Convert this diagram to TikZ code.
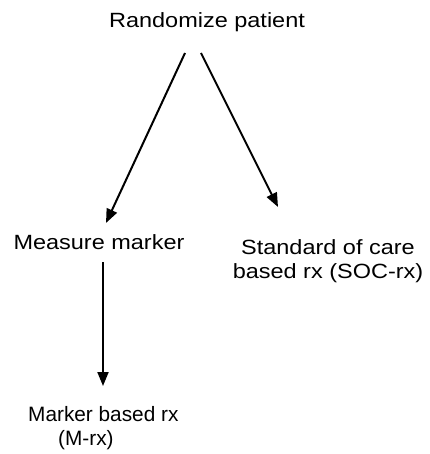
\documentclass[tikz,border=0pt]{standalone}
\usepackage{fontspec}
\setmainfont{Liberation Sans}[FakeStretch=1.14]
\newfontfamily\plainsans{Liberation Sans}
\usetikzlibrary{arrows.meta}
\begin{document}
\begin{tikzpicture}[x=1pt,y=-1pt,
  lbl/.style={inner sep=0pt,anchor=base,font=\fontsize{20.6}{24}\selectfont},
  conn/.style={line width=2pt,-{Triangle[length=14pt,width=11pt]}}]
\useasboundingbox[fill=white] (0,0) rectangle (429,454);
\node[lbl] (rand) at (207,28) {Randomize patient};
\node[lbl] (meas) at (99,249) {Measure marker};
\node[lbl,align=center] (soc) at (328,278) {Standard of care\\based rx (SOC-rx)};
\node[lbl,align=left,anchor=base west,font=\plainsans\fontsize{20.8}{24}\selectfont] (mrx) at (28,445) {Marker based rx\\\hspace{30pt}(M-rx)};
\coordinate (r1) at (185,53);
\coordinate (r2) at (201,53);
\coordinate (m1) at (106,223);
\coordinate (s1) at (278,207);
\coordinate (m2) at (103,262);
\coordinate (x1) at (103,386);
\draw[conn] (r1) -- (m1);
\draw[conn] (r2) -- (s1);
\draw[conn] (m2) -- (x1);
\end{tikzpicture}
\end{document}
